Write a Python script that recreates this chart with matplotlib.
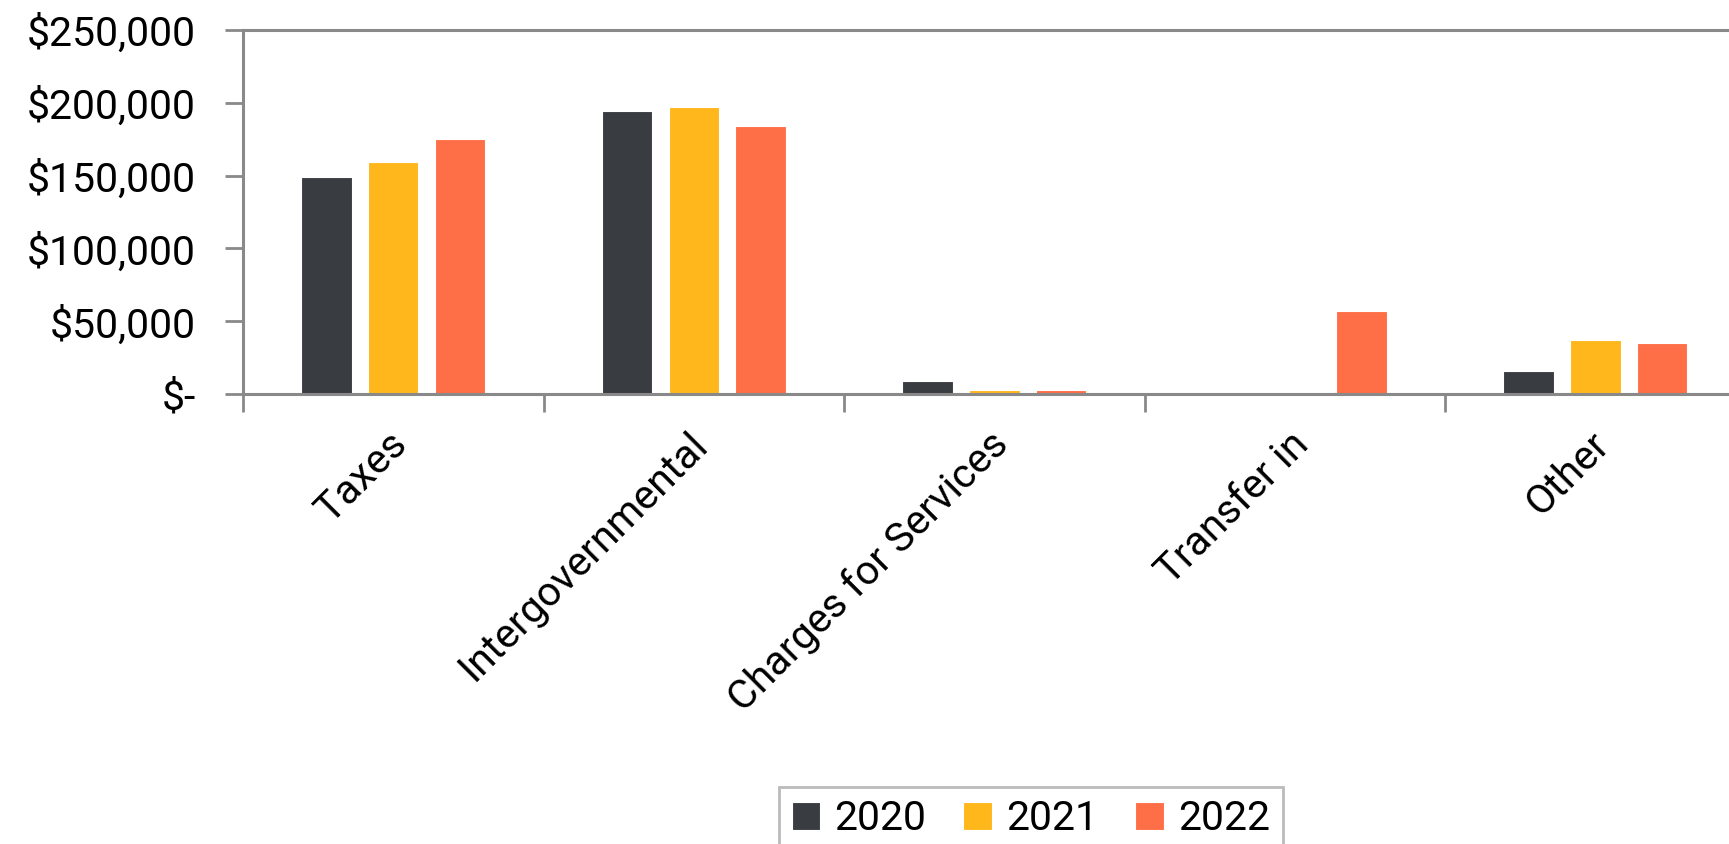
import numpy as np
import matplotlib; matplotlib.use("Agg")
import matplotlib.pyplot as plt
from matplotlib.ticker import FuncFormatter

plt.rcParams["font.family"] = ["Roboto", "DejaVu Sans"]

categories = ["Taxes", "Intergovernmental", "Charges for Services", "Transfer in", "Other"]
years = ["2020", "2021", "2022"]
v2020 = [148800, 194600, 9200, 0, 15600]
v2021 = [159600, 196900, 2500, 0, 37400]
v2022 = [174900, 183900, 2500, 57000, 35300]
colors = ["#393D42", "#FFB71B", "#FF6F47"]

fig = plt.figure(figsize=(17.29, 8.44), dpi=100)
ax = fig.add_axes([243 / 1729, 1 - 394 / 844, 1 - 243 / 1729, (394 - 30) / 844])

x = np.arange(len(categories))
w = 0.168; step = 0.222
for i, (vals, yr, col) in enumerate(zip([v2020, v2021, v2022], years, colors)):
    ax.bar(x + (i - 1) * step, vals, w, color=col, edgecolor="white", linewidth=0.8, label=yr, zorder=2)

ax.set_xlim(-0.5, 4.445)
ax.set_ylim(0, 250000)
ax.set_yticks(np.arange(0, 250001, 50000))


def money(v, pos):
    return "$-" if v == 0 else f"${v:,.0f}"


ax.yaxis.set_major_formatter(FuncFormatter(money))
ax.set_xticks(np.arange(-0.5, 4.0, 1.0))
ax.set_xticklabels([])
ax.set_xticks(x - 0.02, minor=True)
ax.set_xticklabels(categories, minor=True, rotation=45, ha="right", rotation_mode="anchor")
ax.tick_params(axis="x", which="minor", length=0, pad=22, labelsize=29.5)
ax.tick_params(axis="x", which="major", length=13, width=2, color="#898989", direction="out")
ax.tick_params(axis="y", length=13, width=2, color="#898989", labelsize=29.5, pad=21)

for s in ["left", "bottom", "top"]:
    ax.spines[s].set_color("#898989"); ax.spines[s].set_linewidth(2.2)
ax.spines["right"].set_visible(False)

leg = fig.legend(loc="upper center", bbox_to_anchor=(1031 / 1729, 1 - 787 / 844), ncol=3, fontsize=29.5,
                 frameon=True, fancybox=False, edgecolor="#AAAAAA", handlelength=0.7, handleheight=0.7,
                 handletextpad=0.35, columnspacing=0.9, borderpad=0.3, borderaxespad=0)
leg.get_frame().set_linewidth(2)

fig.savefig("out.png", dpi=100)
